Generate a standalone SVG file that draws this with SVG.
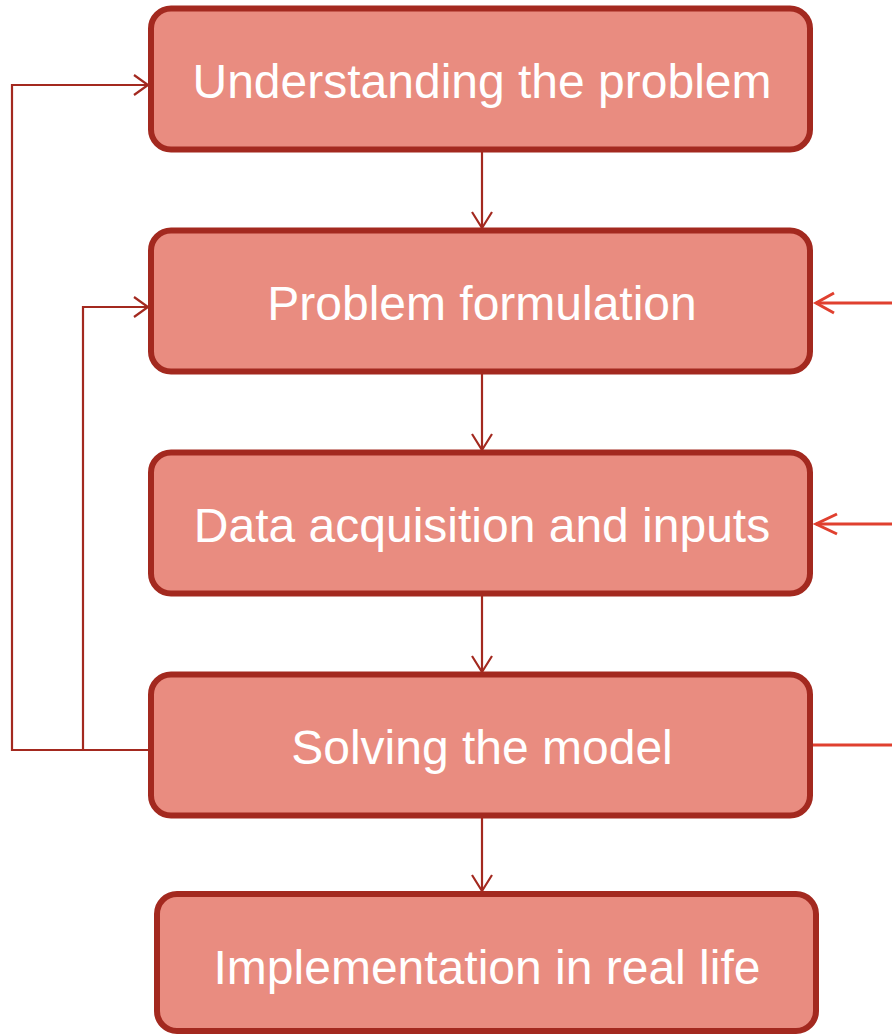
<svg xmlns="http://www.w3.org/2000/svg" width="892" height="1034" viewBox="0 0 892 1034">
<style>
.box{fill:#E98C80;stroke:#A3291F;stroke-width:6}
.lbl{fill:#FFFFFF;font-family:"Liberation Sans",Arial,sans-serif;font-size:48px;text-anchor:middle}
.dk{fill:none;stroke:#A3291F;stroke-width:2.2}
.rd{fill:none;stroke:#E0402F;stroke-width:3}
</style>
<rect width="892" height="1034" fill="#FFFFFF"/>
<g id="connectors">
<path class="dk" d="M482 152 V228"/>
<path class="dk" d="M472 212 L482 228 L492 212"/>
<path class="dk" d="M482 374 V450"/>
<path class="dk" d="M472 434 L482 450 L492 434"/>
<path class="dk" d="M482 596 V672"/>
<path class="dk" d="M472 656 L482 672 L492 656"/>
<path class="dk" d="M482 818 V891"/>
<path class="dk" d="M472 875 L482 891 L492 875"/>
<path class="dk" d="M148 750 H12 V85 H147"/>
<path class="dk" d="M134 75 L148 85 L134 95"/>
<path class="dk" d="M83 750 V307 H147"/>
<path class="dk" d="M134 297 L148 307 L134 317"/>
<path class="rd" d="M892 303 H816"/>
<path class="rd" d="M834 293 L816 303 L834 313"/>
<path class="rd" d="M892 524 H816"/>
<path class="rd" d="M837 514 L816 524 L837 534"/>
<path class="rd" d="M892 745 H813"/>
</g>
<g id="n1"><rect class="box" x="151" y="8.5" width="659" height="141" rx="20"/><text class="lbl" x="482" y="98">Understanding the problem</text></g>
<g id="n2"><rect class="box" x="151" y="230.5" width="659" height="141" rx="20"/><text class="lbl" x="482" y="320">Problem formulation</text></g>
<g id="n3"><rect class="box" x="151" y="452.5" width="659" height="141" rx="20"/><text class="lbl" x="482" y="542">Data acquisition and inputs</text></g>
<g id="n4"><rect class="box" x="151" y="674.5" width="659" height="141" rx="20"/><text class="lbl" x="482" y="764">Solving the model</text></g>
<g id="n5"><rect class="box" x="157" y="894" width="659" height="137" rx="20"/><text class="lbl" x="487" y="984">Implementation in real life</text></g>
</svg>
